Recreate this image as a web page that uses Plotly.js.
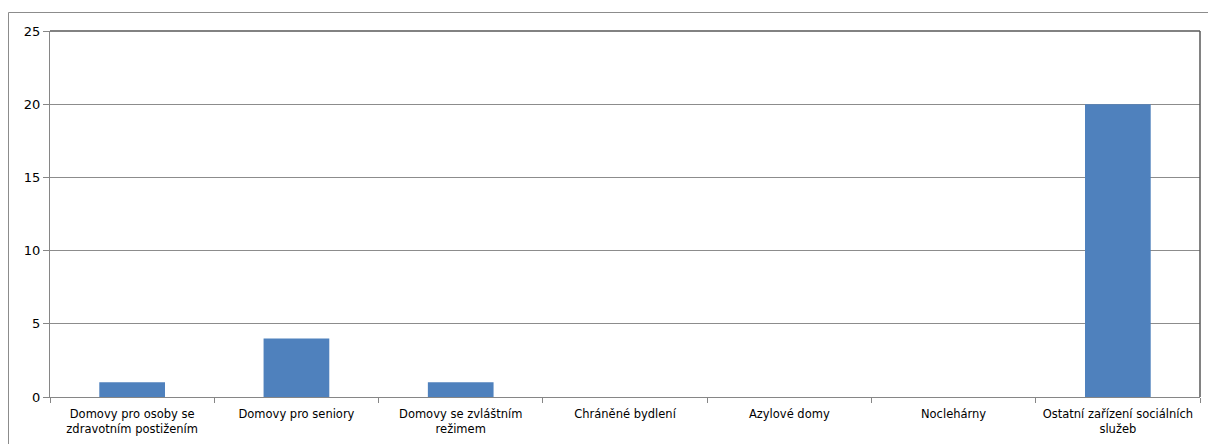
<!DOCTYPE html>
<html>
<head>
<meta charset="utf-8">
<script src="https://cdn.plot.ly/plotly-3.0.1.min.js"></script>
<style>
html,body{margin:0;padding:0;background:#fff;}
#chart{width:1208px;height:444px;}
</style>
</head>
<body>
<div id="chart"></div>
<script>
const categories = [
  "Domovy pro osoby se zdravotním postižením",
  "Domovy pro seniory",
  "Domovy se zvláštním režimem",
  "Chráněné bydlení",
  "Azylové domy",
  "Noclehárny",
  "Ostatní zařízení sociálních služeb"
];
const tickLabels = [
  "Domovy pro osoby se<br>zdravotním postižením",
  "Domovy pro seniory",
  "Domovy se zvláštním<br>režimem",
  "Chráněné bydlení",
  "Azylové domy",
  "Noclehárny",
  "Ostatní zařízení sociálních<br>služeb"
];
const values = [1, 4, 1, 0, 0, 0, 20];
const yTicks = [0, 5, 10, 15, 20, 25];

const W = 1208, H = 444;
const m = {l: 50, r: 8, t: 31, b: 47};
const pw = W - m.l - m.r, ph = H - m.t - m.b;
const px = v => (v - m.l) / pw;          // pixel x -> paper x
const py = v => (H - m.b - v) / ph;      // pixel y -> paper y

const trace = {
  type: 'bar',
  x: categories,
  y: values,
  marker: {color: '#4f81bd', line: {width: 0}},
  hoverinfo: 'x+y'
};

const layout = {
  width: W, height: H,
  margin: m,
  paper_bgcolor: '#ffffff',
  plot_bgcolor: '#ffffff',
  bargap: 0.6,
  showlegend: false,
  font: {family: 'DejaVu Sans, Verdana, sans-serif', size: 12, color: '#000'},
  xaxis: {
    type: 'category',
    tickmode: 'array',
    tickvals: categories,
    ticktext: tickLabels,
    tickson: 'boundaries',
    tickangle: 0,
    ticks: 'outside',
    ticklen: 5,
    tickcolor: '#868686',
    ticklabelstandoff: 6,
    showline: true,
    linecolor: '#868686',
    linewidth: 1,
    showgrid: false,
    zeroline: false,
    tickfont: {size: 11.5},
    fixedrange: true,
    automargin: false
  },
  yaxis: {
    range: [0, 25],
    tickmode: 'array',
    tickvals: yTicks,
    ticks: 'outside',
    ticklen: 6,
    tickcolor: '#868686',
    showline: true,
    linecolor: '#868686',
    linewidth: 1,
    showgrid: true,
    gridcolor: '#8c8c8c',
    gridwidth: 1,
    zeroline: false,
    tickfont: {size: 13},
    fixedrange: true,
    automargin: false
  },
  shapes: [
    // plot-area border top and right
    {type: 'line', xref: 'paper', yref: 'paper', x0: 0, x1: 1, y0: 1, y1: 1,
     line: {color: '#595959', width: 1.5}},
    {type: 'line', xref: 'paper', yref: 'paper', x0: 1, x1: 1, y0: 0, y1: 1,
     line: {color: '#595959', width: 1.5}},
    // outer chart frame
    {type: 'line', xref: 'paper', yref: 'paper', x0: px(8.5), x1: px(1212), y0: py(12.5), y1: py(12.5),
     line: {color: '#8c8c8c', width: 1}},
    {type: 'line', xref: 'paper', yref: 'paper', x0: px(8.5), x1: px(8.5), y0: py(12.5), y1: py(460),
     line: {color: '#8c8c8c', width: 1}}
  ]
};

Plotly.newPlot('chart', [trace], layout, {displayModeBar: false, staticPlot: true});
</script>
</body>
</html>
